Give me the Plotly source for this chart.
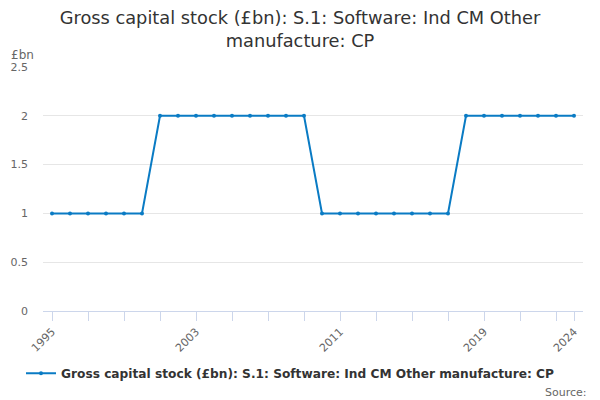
import plotly.graph_objects as go

years = list(range(1995, 2025))
values = [1, 1, 1, 1, 1, 1,
          2, 2, 2, 2, 2, 2, 2, 2, 2,
          1, 1, 1, 1, 1, 1, 1, 1,
          2, 2, 2, 2, 2, 2, 2]
tick_vals = list(range(1995, 2024, 2)) + [2024]
tick_labels = ["1995", "2003", "2011", "2019", "2024"]
series_name = "Gross capital stock (£bn): S.1: Software: Ind CM Other manufacture: CP"

ticktext = [str(v) if str(v) in tick_labels else "" for v in tick_vals]

# the page body has an 8px margin, so the figure is drawn 8px smaller and offset
fig = go.Figure()
fig.add_trace(go.Scatter(
    x=years, y=values, mode="lines+markers", name=series_name,
    line=dict(color="#0a7bc4", width=2),
    marker=dict(size=4, color="#0a7bc4"),
))

fig.update_layout(
    width=592, height=392,
    margin=dict(l=35, r=17, t=59, b=89, autoexpand=False),
    paper_bgcolor="white", plot_bgcolor="white",
    title=dict(text="Gross capital stock (£bn): S.1: Software: Ind CM Other<br>manufacture: CP",
               x=(300 - 8) / 592, xanchor="center", y=0.959, yanchor="top",
               font=dict(family="DejaVu Sans", size=17.8, color="#333333")),
    font=dict(family="DejaVu Sans", color="#666666", size=11),
    xaxis=dict(range=[1994.5, 2024.5], tickvals=tick_vals, ticktext=ticktext,
               tickangle=-45, ticks="outside", ticklen=9, tickcolor="#ccd6eb",
               showline=True, linecolor="#ccd6eb", showgrid=False, zeroline=False,
               automargin=False,
               tickfont=dict(size=11, color="#666666")),
    yaxis=dict(range=[0, 2.5], tickvals=[0, 0.5, 1, 1.5, 2, 2.5],
               ticktext=["0", "0.5", "1", "1.5", "2", "2.5"],
               showgrid=True, gridcolor="#e6e6e6", zeroline=False, showline=False,
               ticks="", automargin=False, ticklabelstandoff=14,
               tickfont=dict(size=11, color="#666666")),
    showlegend=True,
    legend=dict(orientation="h", x=(21 - 43) / 540, xanchor="left", y=-0.255, yanchor="middle",
                itemwidth=30,
                font=dict(family="DejaVu Sans", size=12.2, color="#333333", weight="bold")),
    annotations=[
        dict(text="£bn", xref="paper", yref="paper", x=(9 - 43) / 540, y=1.05,
             xanchor="left", yanchor="middle", showarrow=False,
             font=dict(size=12, color="#666666")),
        dict(text="Source:", xref="paper", yref="paper", x=(589 - 43) / 540, y=-0.332,
             xanchor="right", yanchor="middle", showarrow=False,
             font=dict(size=11, color="#666666")),
    ],
)

fig.write_html("out.html")
